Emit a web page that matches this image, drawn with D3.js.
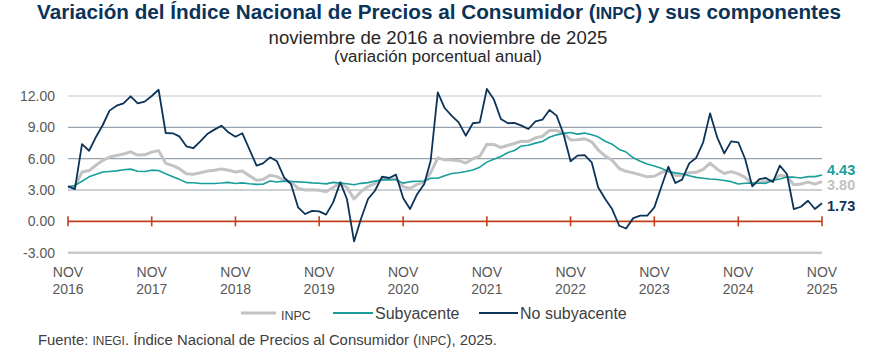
<!DOCTYPE html>
<html><head><meta charset="utf-8">
<script src="https://cdn.jsdelivr.net/npm/d3@7"></script>
<style>
html,body{margin:0;padding:0;background:#fff;}
svg{display:block;font-family:"Liberation Sans",Arial,sans-serif;}
</style></head>
<body><svg id="c" width="878" height="360"></svg>
<script>
// Monthly data: Nov 2016 .. Nov 2025 (109 points)
const startMonth = "2016-11";
const inpc = [3.31,3.36,
 4.72,4.86,5.35,5.82,6.16,6.31,6.44,6.66,6.35,6.37,6.63,6.77,
 5.55,5.34,5.04,4.55,4.51,4.65,4.81,4.90,5.02,4.90,4.72,4.83,
 4.37,3.94,4.00,4.41,4.28,3.95,3.78,3.16,3.00,3.02,2.97,2.83,
 3.24,3.70,3.25,2.15,2.84,3.33,3.62,4.05,4.01,4.09,3.33,3.15,
 3.54,3.76,4.67,6.08,5.89,5.88,5.81,5.59,6.00,6.24,7.37,7.36,
 7.07,7.28,7.45,7.68,7.65,7.99,8.15,8.70,8.70,8.41,7.80,7.82,
 7.91,7.62,6.85,6.25,5.84,5.06,4.79,4.64,4.45,4.26,4.32,4.66,
 4.88,4.40,4.42,4.65,4.69,4.98,5.57,4.99,4.58,4.76,4.55,4.21,
 3.59,3.77,3.80,3.93,4.42,4.32,3.51,3.57,3.76,3.57,3.80];
const subyacente = [3.29,3.44,
 3.84,4.26,4.48,4.72,4.78,4.83,4.94,5.00,4.80,4.77,4.90,4.87,
 4.56,4.27,4.02,3.71,3.69,3.62,3.63,3.63,3.67,3.73,3.63,3.68,
 3.60,3.54,3.55,3.87,3.77,3.85,3.82,3.78,3.75,3.68,3.65,3.59,
 3.73,3.66,3.60,3.50,3.64,3.71,3.85,3.97,3.99,3.98,3.66,3.80,
 3.84,3.87,4.12,4.13,4.37,4.58,4.66,4.78,4.92,5.19,5.67,5.94,
 6.21,6.59,6.78,7.22,7.28,7.49,7.65,8.05,8.28,8.42,8.51,8.35,
 8.45,8.29,8.09,7.67,7.39,6.89,6.64,6.08,5.76,5.50,5.30,5.09,
 4.76,4.64,4.55,4.37,4.21,4.13,4.05,4.00,3.91,3.80,3.58,3.65,
 3.66,3.65,3.64,3.93,4.06,4.24,4.23,4.15,4.28,4.28,4.43];
const noSubyacente = [3.35,3.09,
 7.40,6.76,8.00,9.20,10.60,11.07,11.30,11.97,11.30,11.46,12.00,12.60,
 8.46,8.43,8.14,7.18,7.00,7.66,8.36,8.78,9.16,8.52,8.10,8.43,
 6.90,5.33,5.55,6.13,5.75,4.20,3.57,1.34,0.70,1.00,0.96,0.64,
 1.82,3.73,2.14,-1.92,0.22,2.14,2.93,4.27,4.15,4.47,2.23,1.18,
 2.60,3.57,5.80,12.35,10.85,10.10,9.48,8.20,9.39,9.48,12.67,11.70,
 9.80,9.39,9.42,9.16,8.84,9.58,9.73,10.66,10.12,8.36,5.75,6.29,
 6.35,5.65,3.26,2.14,1.18,-0.42,-0.68,0.31,0.54,0.54,1.34,3.26,
 5.23,3.67,3.99,5.55,6.06,7.57,10.34,8.05,6.51,7.66,7.57,5.97,
 3.35,4.05,4.15,3.76,5.33,4.53,1.18,1.40,1.97,1.18,1.73];
const yTicks = [-3,0,3,6,9,12];
const xTickYears = [2016,2017,2018,2019,2020,2021,2022,2023,2024,2025];
const seriesNames = ["INPC","Subyacente","No subyacente"];

const svg = d3.select("#c");
const navy = "#0c3358", teal = "#1a9e9b", gray = "#c3c3c3";
const t0 = d3.timeParse("%Y-%m")(startMonth);
const dates = inpc.map((_, i) => d3.timeMonth.offset(t0, i));

const x = d3.scaleTime().domain([t0, dates[dates.length-1]]).range([68, 822]);
const y = d3.scaleLinear().domain([-3, 12]).range([252.7, 96]);

function fit(sel, w) {
  const n = sel.node();
  let fs = parseFloat(sel.attr("font-size"));
  const len = n.getComputedTextLength();
  sel.attr("font-size", (fs * w / len).toFixed(2));
}
const title = svg.append("text").attr("x", 439).attr("y", 18.5).attr("text-anchor","middle")
  .attr("font-size", 19).attr("font-weight","bold").attr("fill", navy);
title.append("tspan").text("Variación del Índice Nacional de Precios al Consumidor (");
title.append("tspan").attr("font-size","0.8em").text("INPC");
title.append("tspan").text(") y sus componentes");
fit(title, 804);

const sub = svg.append("text").attr("x", 438).attr("y", 43.5).attr("text-anchor","middle")
  .attr("font-size", 18).attr("fill", "#262626").text("noviembre de 2016 a noviembre de 2025");
fit(sub, 339);
const sub2 = svg.append("text").attr("x", 438).attr("y", 61.5).attr("text-anchor","middle")
  .attr("font-size", 15).attr("fill", "#262626").text("(variación porcentual anual)");
fit(sub2, 208);

// grid
const g = svg.append("g");
yTicks.forEach(v => {
  if (v === 0) return;
  g.append("line").attr("x1", 68).attr("x2", 822).attr("y1", y(v)).attr("y2", y(v))
    .attr("stroke", v === -3 ? "#c8cacd" : (v === 12 ? "#c3c8ce" : "#99a3ad"))
    .attr("stroke-width", v === -3 ? 2.5 : 1.2);
});
// y labels
svg.append("g").selectAll("text").data(yTicks).join("text")
  .attr("x", 55).attr("y", d => y(d) + 5).attr("text-anchor","end")
  .attr("font-size", 14).attr("fill", "#595959").text(d => d.toFixed(2));

// zero line with ticks
g.append("line").attr("x1", 68).attr("x2", 822).attr("y1", y(0)).attr("y2", y(0))
  .attr("stroke", "#c4401c").attr("stroke-width", 1.6);
const tickDates = xTickYears.map(yr => new Date(yr, 10, 1));
g.selectAll(".zt").data(tickDates).join("line")
  .attr("x1", d => x(d)).attr("x2", d => x(d))
  .attr("y1", y(0) - 5).attr("y2", y(0) + 5)
  .attr("stroke", "#c4401c").attr("stroke-width", 1.6);

// x labels
const xl = svg.append("g").selectAll("text").data(tickDates).join("text")
  .attr("text-anchor","middle").attr("font-size", 14).attr("fill", "#595959");
xl.append("tspan").attr("x", d => x(d)).attr("y", 277).text("NOV");
xl.append("tspan").attr("x", d => x(d)).attr("y", 294).text(d => d.getFullYear());

// lines
const line = vals => d3.line().x((d, i) => x(dates[i])).y(d => y(d))(vals);
svg.append("path").attr("d", line(inpc)).attr("fill","none").attr("stroke", gray)
  .attr("stroke-width", 3).attr("stroke-linejoin","round");
svg.append("path").attr("d", line(subyacente)).attr("fill","none").attr("stroke", teal)
  .attr("stroke-width", 1.6).attr("stroke-linejoin","round");
svg.append("path").attr("d", line(noSubyacente)).attr("fill","none").attr("stroke", navy)
  .attr("stroke-width", 1.8).attr("stroke-linejoin","round");

// end labels
const last = inpc.length - 1;
const endL = [
  {v: subyacente[last], c: teal, dy: 0},
  {v: inpc[last], c: gray, dy: 8},
  {v: noSubyacente[last], c: navy, dy: 8}
];
svg.append("g").selectAll("text").data(endL).join("text")
  .attr("x", 827).attr("y", d => y(d.v) + d.dy)
  .attr("font-size", 14.5).attr("font-weight","bold").attr("fill", d => d.c)
  .text(d => d.v.toFixed(2));

// legend
const leg = svg.append("g");
const legItems = [
  {n: seriesNames[0], c: gray, w: 3, x1: 241, x2: 276, tx: 281, small: true},
  {n: seriesNames[1], c: teal, w: 1.8, x1: 333, x2: 373, tx: 375, small: false},
  {n: seriesNames[2], c: navy, w: 2, x1: 479, x2: 518, tx: 520, small: false}
];
legItems.forEach(d => {
  leg.append("line").attr("x1", d.x1).attr("x2", d.x2).attr("y1", 313).attr("y2", 313)
    .attr("stroke", d.c).attr("stroke-width", d.w);
  leg.append("text").attr("x", d.tx).attr("y", d.small ? 320 : 319)
    .attr("font-size", d.small ? 12.5 : 16).attr("fill", "#404040").text(d.n);
});

// source
const src = svg.append("text").attr("x", 38).attr("y", 345).attr("font-size", 13.5).attr("fill", "#404040");
src.append("tspan").text("Fuente: ");
src.append("tspan").attr("font-size","0.8em").text("INEGI");
src.append("tspan").text(". Índice Nacional de Precios al Consumidor (");
src.append("tspan").attr("font-size","0.8em").text("INPC");
src.append("tspan").text("), 2025.");
fit(src, 459);
</script>
</body></html>
